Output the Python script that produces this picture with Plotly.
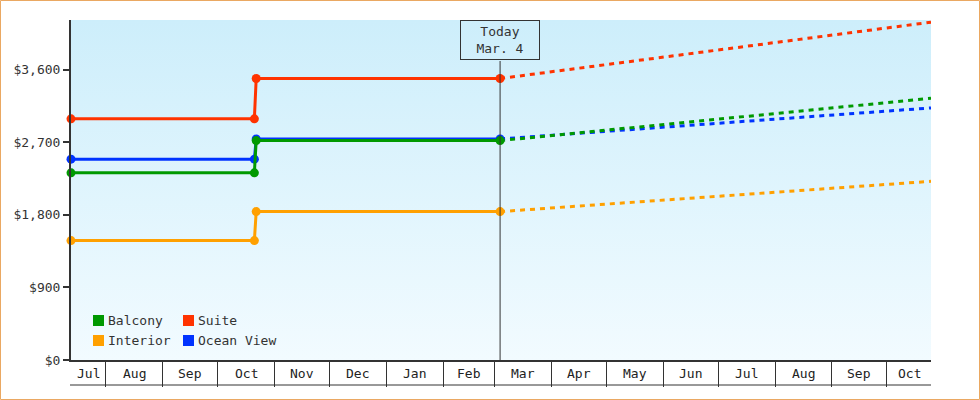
import base64
import pandas as pd
import plotly.graph_objects as go

# ---------------- data ----------------
hist_dates = ["2017-07-13", "2017-10-21", "2017-10-22", "2018-03-04"]
proj_dates = ["2018-03-04", "2018-10-25"]

balcony_hist = [2320, 2320, 2720, 2720]
suite_hist = [2990, 2990, 3490, 3490]
interior_hist = [1480, 1480, 1840, 1840]
ocean_hist = [2490, 2490, 2740, 2740]

balcony_proj = [2720, 3245]
suite_proj = [3490, 4188]
interior_proj = [1840, 2215]
ocean_proj = [2740, 3125]

series_names = ["Balcony", "Suite", "Interior", "Ocean View"]
series_colors = ["#009900", "#ff3300", "#ffa000", "#0033ff"]

y_ticks = [0, 900, 1800, 2700, 3600]
today_date = "2018-03-04"
today_text = "Today<br>Mar. 4"
x_range = ["2017-07-13", "2018-10-25"]
y_range = [0, 4215]

# ---------------- layout helpers ----------------
W, H = 980, 400
L, R, T, B = 71, 49, 20, 40
PW, PH = W - L - R, H - T - B


def px(x):
    return (x - L) / PW


def py(y):
    return (H - B - y) / PH


FONT = "DejaVu Sans Mono"
TXT = "#333333"

fig = go.Figure()

hist = {
    "Balcony": balcony_hist, "Suite": suite_hist,
    "Interior": interior_hist, "Ocean View": ocean_hist,
}
proj = {
    "Balcony": balcony_proj, "Suite": suite_proj,
    "Interior": interior_proj, "Ocean View": ocean_proj,
}
color = dict(zip(series_names, series_colors))
draw_order = ["Interior", "Ocean View", "Suite", "Balcony"]

for name in draw_order:
    fig.add_trace(go.Scatter(
        x=proj_dates, y=proj[name], mode="lines",
        line=dict(color=color[name], width=3, dash="5px,5px"),
        showlegend=False, hoverinfo="skip", cliponaxis=False,
    ))
for name in draw_order:
    fig.add_trace(go.Scatter(
        x=hist_dates, y=hist[name], mode="lines+markers",
        line=dict(color=color[name], width=3),
        marker=dict(color=color[name], size=9, symbol="circle"),
        name=name, showlegend=False, cliponaxis=False,
    ))

# gradient background image
svg = ('<svg xmlns="http://www.w3.org/2000/svg" width="100" height="100" preserveAspectRatio="none">'
       '<defs><linearGradient id="g" x1="0" y1="0" x2="0" y2="1">'
       '<stop offset="0" stop-color="#cdeefb"/><stop offset="1" stop-color="#f2fbff"/>'
       '</linearGradient></defs><rect width="100" height="100" fill="url(#g)"/></svg>')
src = "data:image/svg+xml;base64," + base64.b64encode(svg.encode()).decode()

shapes = []
annotations = []

# month boundaries and labels
start = pd.Timestamp(x_range[0])
end = pd.Timestamp(x_range[1])
month_starts = pd.date_range("2017-07-01", "2018-11-01", freq="MS")
tickvals = [d for d in month_starts if start < d < end]
for i in range(len(month_starts) - 1):
    s = max(month_starts[i], start)
    e = min(month_starts[i + 1], end)
    if e <= s:
        continue
    mid = s + (e - s) / 2
    annotations.append(dict(
        x=mid, y=py(373), xref="x", yref="paper", text=month_starts[i].strftime("%b"),
        showarrow=False, font=dict(family=FONT, size=13, color="#222222"),
        xanchor="center", yanchor="middle",
    ))

# bottom line of month strip
shapes.append(dict(type="line", xref="paper", yref="paper", x0=px(70), x1=1, y0=py(385), y1=py(385),
                   line=dict(color=TXT, width=1)))

# today line and label
shapes.append(dict(type="line", xref="x", yref="paper", x0=today_date, x1=today_date,
                   y0=0, y1=py(61), line=dict(color=TXT, width=1)))
annotations.append(dict(
    x=today_date, y=1, xref="x", yref="paper", text=today_text, showarrow=False,
    xanchor="center", yanchor="top", font=dict(family=FONT, size=13, color=TXT),
    bordercolor=TXT, borderwidth=1, borderpad=0, width=78, height=38, align="center",
))

# manual legend
leg_pos = [(93, 315), (183, 315), (93, 335), (183, 335)]
for (name, c), (lx, ly) in zip(zip(series_names, series_colors), leg_pos):
    shapes.append(dict(type="rect", xref="paper", yref="paper",
                       x0=px(lx), x1=px(lx + 11), y0=py(ly + 11), y1=py(ly),
                       fillcolor=c, line=dict(width=0)))
    annotations.append(dict(
        x=px(lx + 13), y=py(ly + 5.5), xref="paper", yref="paper", text=name,
        showarrow=False, xanchor="left", yanchor="middle",
        font=dict(family=FONT, size=13, color=TXT),
    ))

# outer orange border
shapes.append(dict(type="rect", xref="paper", yref="paper",
                   x0=px(0.5), x1=px(W - 0.5), y0=py(H - 0.5), y1=py(0.5),
                   line=dict(color="#eaa862", width=1), fillcolor="rgba(0,0,0,0)"))

fig.update_layout(
    width=W, height=H,
    margin=dict(l=L, r=R, t=T, b=B, pad=0),
    paper_bgcolor="white", plot_bgcolor="rgba(0,0,0,0)",
    showlegend=False,
    images=[dict(source=src, xref="paper", yref="paper", x=0, y=1, sizex=1, sizey=1,
                 sizing="stretch", layer="below", xanchor="left", yanchor="top")],
    shapes=shapes, annotations=annotations,
    xaxis=dict(
        type="date", range=x_range, tickvals=tickvals, showticklabels=False,
        ticks="outside", ticklen=25, tickcolor=TXT, tickwidth=1,
        showline=True, linecolor=TXT, linewidth=2, showgrid=False, zeroline=False,
    ),
    yaxis=dict(
        range=y_range, tickvals=y_ticks, tickformat="$,.0f",
        ticks="outside", ticklen=6, tickwidth=2, tickcolor=TXT,
        showline=True, linecolor=TXT, linewidth=2, showgrid=False, zeroline=False,
        tickfont=dict(family=FONT, size=13, color=TXT),
    ),
    font=dict(family=FONT, color=TXT),
)

fig.write_html(
    "out.html",
    config={"displayModeBar": False},
    post_script="document.body.style.margin='0';document.body.style.padding='0';",
)
